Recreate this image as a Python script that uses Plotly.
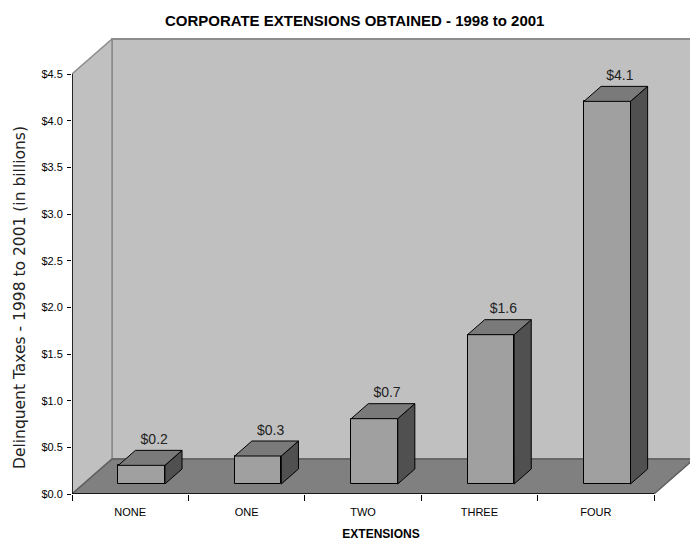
import plotly.graph_objects as go

# Chart data
categories = ["NONE", "ONE", "TWO", "THREE", "FOUR"]
taxes_billions = [0.2, 0.3, 0.7, 1.6, 4.1]
bar_labels = ["$0.2", "$0.3", "$0.7", "$1.6", "$4.1"]
y_tick_values = [0.0, 0.5, 1.0, 1.5, 2.0, 2.5, 3.0, 3.5, 4.0, 4.5]
y_tick_labels = ["$0.0", "$0.5", "$1.0", "$1.5", "$2.0", "$2.5", "$3.0", "$3.5", "$4.0", "$4.5"]

# 3D box styling (in axis units)
DEPTH_X = 0.3436      # horizontal offset of the back wall
DEPTH_Y = 0.375       # vertical offset of the back wall
FRONT_FRAC = 0.2857   # bar front plane as a share of the floor depth
BACK_FRAC = 0.714     # bar back plane as a share of the floor depth
BAR_W = 0.4
LABEL_PAD = 0.03

WALL = "#C0C0C0"
FLOOR = "#808080"
BAR_FRONT = "#A0A0A0"
BAR_TOP = "#7A7A7A"
BAR_SIDE = "#505050"

n = len(categories)
x_lo, x_hi = -0.5, n - 0.5
y_top = max(y_tick_values)
FONT = "Liberation Sans, Arial, sans-serif"

fig = go.Figure()

# Front faces of the bars
fx = [i + FRONT_FRAC * DEPTH_X for i in range(n)]
base = FRONT_FRAC * DEPTH_Y
fig.add_trace(go.Bar(
    x=fx, y=taxes_billions, base=base, width=BAR_W,
    marker=dict(color=BAR_FRONT, line=dict(color="black", width=1)),
    hoverinfo="skip", showlegend=False,
))

# Top and right-hand faces
bdx = (BACK_FRAC - FRONT_FRAC) * DEPTH_X
bdy = (BACK_FRAC - FRONT_FRAC) * DEPTH_Y
top_x, top_y, side_x, side_y = [], [], [], []
for i, v in enumerate(taxes_billions):
    xl = fx[i] - BAR_W / 2
    xr = fx[i] + BAR_W / 2
    t = v + base
    top_x += [xl, xr, xr + bdx, xl + bdx, xl, None]
    top_y += [t, t, t + bdy, t + bdy, t, None]
    side_x += [xr, xr + bdx, xr + bdx, xr, xr, None]
    side_y += [base, base + bdy, t + bdy, t, base, None]

fig.add_trace(go.Scatter(x=side_x, y=side_y, fill="toself", fillcolor=BAR_SIDE,
                         mode="lines", line=dict(color="black", width=1),
                         hoverinfo="skip", showlegend=False))
fig.add_trace(go.Scatter(x=top_x, y=top_y, fill="toself", fillcolor=BAR_TOP,
                         mode="lines", line=dict(color="black", width=1),
                         hoverinfo="skip", showlegend=False))

# Value labels above each bar
fig.add_trace(go.Scatter(
    x=[i + 0.6 * DEPTH_X for i in range(n)],
    y=[v + BACK_FRAC * DEPTH_Y + LABEL_PAD for v in taxes_billions],
    mode="text", text=bar_labels, textposition="top center",
    textfont=dict(family=FONT, size=14, color="#222222"),
    cliponaxis=False, hoverinfo="skip", showlegend=False,
))

far = x_hi + 1.0
shapes = [
    # back wall
    dict(type="rect", x0=x_lo + DEPTH_X, x1=far, y0=DEPTH_Y, y1=y_top + DEPTH_Y,
         fillcolor=WALL, line=dict(color="#8C8C8C", width=2), layer="below"),
    # left wall
    dict(type="path",
         path=f"M {x_lo},0 L {x_lo},{y_top} L {x_lo + DEPTH_X},{y_top + DEPTH_Y} "
              f"L {x_lo + DEPTH_X},{DEPTH_Y} Z",
         fillcolor=WALL, line=dict(color="#8C8C8C", width=1.5), layer="below"),
    # floor
    dict(type="path",
         path=f"M {x_lo},0 L {x_lo + DEPTH_X},{DEPTH_Y} L {x_hi + DEPTH_X},{DEPTH_Y} "
              f"L {x_hi},0 Z",
         fillcolor=FLOOR, line=dict(color="#5E5E5E", width=1.5), layer="below"),
    # axis lines
    dict(type="line", x0=x_lo, x1=x_hi, y0=0, y1=0, line=dict(color="black", width=1.5)),
    dict(type="line", x0=x_lo, x1=x_lo, y0=0, y1=y_top, line=dict(color="black", width=1.5)),
]

fig.update_layout(
    width=690, height=541,
    margin=dict(l=72, r=0, t=38, b=47),
    paper_bgcolor="white", plot_bgcolor="white",
    shapes=shapes,
    bargap=0,
    title=dict(text="<b>CORPORATE EXTENSIONS OBTAINED - 1998 to 2001</b>",
               x=0.514, xanchor="center", y=1 - 21 / 541, yanchor="middle",
               font=dict(family=FONT, size=15, color="black")),
    xaxis=dict(
        range=[x_lo, x_hi + 36 / 116.4],
        tickmode="array", tickvals=list(range(n)), ticktext=categories,
        ticks="", showgrid=False, zeroline=False, showline=False,
        tickfont=dict(family=FONT, size=11, color="black"),
        ticklabelstandoff=10,
        minor=dict(tickmode="array", tickvals=[x_lo + k for k in range(n + 1)],
                   ticks="outside", ticklen=6, tickcolor="black", tickwidth=1,
                   showgrid=False),
        title=dict(text="<b>EXTENSIONS</b>", standoff=14,
                   font=dict(family=FONT, size=12, color="black")),
        fixedrange=True,
    ),
    yaxis=dict(
        range=[0, 4.886],
        tickmode="array", tickvals=y_tick_values, ticktext=y_tick_labels,
        ticks="outside", ticklen=4, tickcolor="black", tickwidth=1,
        showgrid=False, zeroline=False, showline=False,
        tickfont=dict(family=FONT, size=11, color="black"),
        ticklabelstandoff=2,
        fixedrange=True,
    ),
    annotations=[dict(
        text="Delinquent Taxes - 1998 to 2001 (in billions)",
        xref="paper", yref="paper", x=-52 / 618, xanchor="center",
        y=(494 - 298) / 456, yanchor="middle", textangle=-90, showarrow=False,
        font=dict(family="DejaVu Sans, sans-serif", size=15.5, color="#222222"),
    )],
)

fig.write_html("out.html")
